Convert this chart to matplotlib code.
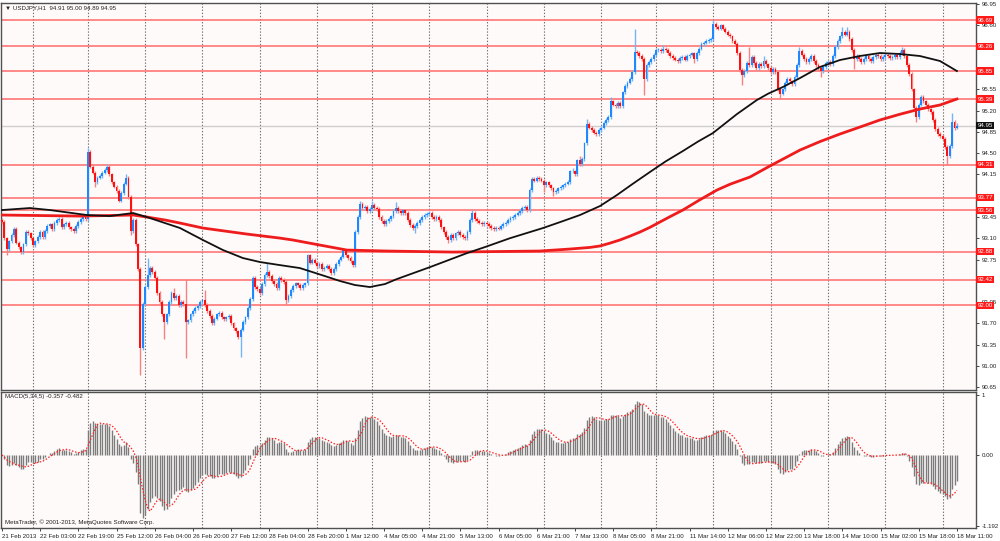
import matplotlib
matplotlib.use("Agg")
import matplotlib.pyplot as plt
import matplotlib.transforms as mtransforms
import numpy as np
import pandas as pd

# ---------------- data ----------------
symbol_title = "\u25bc USDJPY,H1  94.91 95.00 94.89 94.95"
macd_title = "MACD(5,34,5) -0.357 -0.482"
copyright_text = "MetaTrader, \u00a9 2001-2013, MetaQuotes Software Corp."

first_open = 93.40
closes = [
    93.37, 93.10, 92.92, 93.05, 93.15, 93.25, 93.03, 92.95, 92.88, 93.00, 93.20, 93.18, 93.10, 92.99, 93.05, 93.12,
    93.20, 93.12, 93.22, 93.30, 93.33, 93.25, 93.35, 93.40, 93.42, 93.28, 93.33, 93.35, 93.28, 93.25, 93.22, 93.30,
    93.37, 93.42, 93.45, 93.42, 94.52, 94.28, 94.18, 94.02, 94.10, 94.12, 94.18, 94.22, 94.28, 94.15, 94.02, 93.95,
    93.88, 93.72, 93.85, 94.00, 94.10, 93.78, 93.22, 93.40, 93.00, 92.60, 91.30, 92.02, 92.30, 92.50, 92.62, 92.55,
    92.45, 92.20, 92.05, 91.85, 91.72, 91.85, 92.05, 92.20, 92.12, 92.15, 92.00, 92.05, 92.02, 91.72, 91.75, 91.85,
    91.90, 91.95, 91.98, 92.05, 92.08, 92.00, 91.90, 91.82, 91.70, 91.78, 91.85, 91.88, 91.80, 91.77, 91.80, 91.83,
    91.70, 91.62, 91.57, 91.48, 91.60, 91.72, 91.80, 91.95, 92.10, 92.45, 92.30, 92.27, 92.20, 92.35, 92.50, 92.55,
    92.48, 92.40, 92.35, 92.28, 92.45, 92.42, 92.38, 92.08, 92.15, 92.25, 92.32, 92.36, 92.33, 92.28, 92.33, 92.36,
    92.82, 92.70, 92.75, 92.70, 92.64, 92.68, 92.60, 92.62, 92.64, 92.60, 92.53, 92.60, 92.68, 92.75, 92.80, 92.90,
    92.82, 92.78, 92.72, 92.66, 93.20, 93.45, 93.66, 93.60, 93.62, 93.55, 93.58, 93.65, 93.60, 93.58, 93.45, 93.38,
    93.33, 93.38, 93.42, 93.46, 93.55, 93.60, 93.55, 93.52, 93.56, 93.52, 93.40, 93.32, 93.27, 93.30, 93.35, 93.40,
    93.45, 93.48, 93.50, 93.52, 93.45, 93.42, 93.45, 93.40, 93.28, 93.20, 93.12, 93.07, 93.15, 93.10, 93.18, 93.20,
    93.16, 93.12, 93.10, 93.20, 93.40, 93.52, 93.42, 93.38, 93.36, 93.34, 93.36, 93.34, 93.30, 93.27, 93.25, 93.27,
    93.26, 93.30, 93.34, 93.36, 93.40, 93.43, 93.45, 93.49, 93.52, 93.55, 93.60, 93.62, 93.56, 93.90, 94.08, 94.05,
    94.10, 94.08, 94.05, 93.98, 94.02, 93.97, 93.92, 93.86, 93.88, 93.92, 93.94, 93.97, 94.00, 94.03, 94.20, 94.20,
    94.15, 94.38, 94.32, 94.40, 94.66, 94.98, 94.92, 94.88, 94.84, 94.82, 94.88, 94.92, 95.00, 95.05, 95.10, 95.35,
    95.30, 95.28, 95.32, 95.28, 95.50, 95.60, 95.66, 95.72, 95.84, 96.17, 96.15, 96.10, 96.05, 95.72, 95.95, 96.00,
    96.05, 96.12, 96.20, 96.20, 96.18, 96.22, 96.20, 96.15, 96.10, 96.06, 96.04, 96.02, 96.06, 96.08, 96.04, 96.10,
    96.12, 96.14, 96.05, 96.15, 96.22, 96.30, 96.32, 96.34, 96.36, 96.38, 96.63, 96.58, 96.55, 96.60, 96.55, 96.50,
    96.45, 96.42, 96.35, 96.30, 96.15, 95.87, 95.78, 95.85, 95.98, 95.95, 96.08, 95.98, 95.90, 95.97, 95.93, 96.02,
    95.96, 95.90, 95.83, 95.88, 95.83, 95.55, 95.48, 95.55, 95.65, 95.72, 95.68, 95.64, 95.75, 95.95, 96.18, 96.12,
    96.05, 96.00, 96.05, 96.10, 96.02, 95.95, 95.90, 95.85, 95.92, 95.98, 96.00, 95.97, 96.10, 96.25, 96.35, 96.42,
    96.50, 96.45, 96.50, 96.38, 96.20, 96.05, 96.10, 96.05, 96.00, 96.05, 96.10, 96.05, 96.02, 96.08, 96.12, 96.10,
    96.05, 96.08, 96.12, 96.10, 96.06, 96.08, 96.12, 96.08, 96.15, 96.20, 96.10, 95.95, 95.80, 95.55, 95.25, 95.10,
    95.30, 95.42, 95.35, 95.30, 95.22, 95.18, 95.05, 94.90, 94.82, 94.78, 94.74, 94.60, 94.45, 94.62, 95.02, 94.91,
    94.95,
]
high_marks = {36: 94.58, 44: 94.32, 52: 94.15, 61: 92.78, 72: 92.28, 77: 92.42, 85: 92.25, 111: 92.70,
              128: 92.85, 150: 93.72, 155: 93.72, 165: 93.70, 197: 93.56, 239: 94.25, 242: 94.45,
              245: 95.07, 255: 95.42, 265: 96.55, 277: 96.28, 298: 96.69, 313: 96.25, 319: 96.10,
              334: 96.25, 352: 96.58, 354: 96.58, 377: 96.25, 398: 95.16, 400: 95.00}
low_marks = {2: 92.82, 39: 93.95, 54: 93.15, 58: 90.85, 68: 91.45, 77: 91.13, 100: 91.15, 119: 92.02,
             173: 93.18, 187: 93.02, 227: 93.86, 231: 93.80, 269: 95.46, 290: 95.98, 310: 95.62,
             326: 95.40, 343: 95.75, 357: 95.88, 383: 95.02, 396: 94.30, 400: 94.89}

black_ma_bars = [0, 11.7, 20.1, 35.6, 45.2, 54.9, 60.7, 68.3, 74.6, 84.2, 92.6, 100.9, 108.1, 116.4, 124.8,
                 135.3, 141.6, 147.9, 154.1, 160.4, 165.4, 179.3, 194.8, 202.3, 212.8, 226.6, 234.0, 242.1,
                 250.5, 257.6, 264.0, 271.4, 278.0, 285.2, 291.5, 297.8, 307.9, 316.2, 321.0, 327.1, 334.3,
                 342.6, 351.0, 359.4, 367.7, 376.1, 384.5, 392.9, 400.0]
black_ma_vals = [93.565, 93.598, 93.565, 93.483, 93.466, 93.516, 93.450, 93.351, 93.269, 93.072, 92.907,
                 92.776, 92.710, 92.660, 92.611, 92.479, 92.398, 92.332, 92.299, 92.348, 92.430, 92.627,
                 92.857, 92.956, 93.102, 93.269, 93.370, 93.483, 93.631, 93.812, 93.990, 94.190, 94.365,
                 94.535, 94.690, 94.831, 95.144, 95.374, 95.480, 95.588, 95.736, 95.917, 96.032, 96.098,
                 96.147, 96.131, 96.098, 96.016, 95.851]
red_ma_bars = [0, 32.7, 54.9, 60.7, 68.3, 74.6, 84.2, 102.6, 116.4, 121.9, 133.2, 144.5, 161.3, 188.9,
               225.3, 237.9, 246.2, 250.5, 254.6, 258.8, 263.0, 267.2, 271.4, 275.6, 280.0, 285.2, 292.4,
               299.5, 305.0, 313.3, 321.7, 334.3, 342.6, 351.0, 359.4, 367.7, 376.1, 384.5, 392.9, 400.0]
red_ma_vals = [93.483, 93.466, 93.483, 93.450, 93.401, 93.351, 93.269, 93.170, 93.104, 93.072, 92.989,
               92.907, 92.891, 92.874, 92.891, 92.924, 92.950, 92.974, 93.020, 93.072, 93.135, 93.203,
               93.280, 93.368, 93.460, 93.565, 93.735, 93.894, 93.990, 94.108, 94.290, 94.552, 94.690,
               94.815, 94.930, 95.045, 95.140, 95.226, 95.292, 95.391]

levels = [96.69, 96.26, 95.85, 95.39, 94.31, 93.77, 93.56, 92.88, 92.42, 92.00]
bid = 94.95
price_ticks = [96.95, 96.60, 96.25, 95.90, 95.55, 95.20, 94.85, 94.50, 94.15, 93.80, 93.45,
               93.10, 92.75, 92.40, 92.05, 91.70, 91.35, 91.00, 90.65]
hidden_ticks = [96.25, 95.90, 93.80, 92.40]   # covered by the level boxes in the reference
time_labels = ["21 Feb 2013", "22 Feb 03:00", "22 Feb 19:00", "25 Feb 12:00", "26 Feb 04:00",
               "26 Feb 20:00", "27 Feb 12:00", "28 Feb 04:00", "28 Feb 20:00", "1 Mar 12:00",
               "4 Mar 05:00", "4 Mar 21:00", "5 Mar 13:00", "6 Mar 05:00", "6 Mar 21:00",
               "7 Mar 13:00", "8 Mar 05:00", "8 Mar 21:00", "11 Mar 14:00", "12 Mar 06:00",
               "12 Mar 22:00", "13 Mar 18:00", "14 Mar 10:00", "15 Mar 02:00", "15 Mar 18:00",
               "18 Mar 11:00"]
label_step = 16
grid_bars = [13, 36, 60, 84, 108, 132, 155, 179, 203, 227, 251, 274, 298, 322, 346, 370, 394]
macd_fast, macd_slow, macd_signal_len = 5, 34, 5
macd_ticks = [1.0, 0.0, -1.192]
macd_tick_labels = ["1", "0.00", "-1.192"]

# ---------------- derived ----------------
c = np.array(closes)
o = np.array([first_open] + closes[:-1])
n = len(c)
WICK = 0.03
h = np.maximum(o, c) + WICK
l = np.minimum(o, c) - WICK
for k, v in high_marks.items():
    h[k] = v
for k, v in low_marks.items():
    l[k] = v
x = np.arange(n)


def ema(v, p):
    a = 2.0 / (p + 1)
    out = np.empty_like(v)
    out[0] = v[0]
    for i in range(1, len(v)):
        out[i] = a * v[i] + (1 - a) * out[i - 1]
    return out


macd = ema(c, macd_fast) - ema(c, macd_slow)
signal = pd.Series(macd).rolling(macd_signal_len, min_periods=1).mean().values

# ---------------- figure ----------------
FONT = "Liberation Sans"
FS = 4.4
bg = "#fffafa"
fig = plt.figure(figsize=(10, 5.41), dpi=100, facecolor="white")
ax = fig.add_axes([0.001, 0.279, 0.975, 0.7155], facecolor=bg)
axm = fig.add_axes([0.001, 0.024, 0.975, 0.2514], facecolor=bg, sharex=ax)

xlim = (-0.4, 408)
ax.set_xlim(*xlim)
ax.set_ylim(90.605, 96.97)
axm.set_ylim(-1.225, 1.057)

for a in (ax, axm):
    for gb in grid_bars:
        a.axvline(gb, color="#6e6e6e", lw=0.8, ls=(0, (1.2, 1.6)), zorder=1)
    for s in a.spines.values():
        s.set_color("#505050")
        s.set_linewidth(1.0)

# levels and bid line
for lv in levels:
    ax.axhline(lv, color="#ff6a6a", lw=1.1, zorder=2)
ax.axhline(bid, color="#cfcfcf", lw=1.0, zorder=2)

# candles
up = c >= o
wick_up, wick_dn = "#72b6f7", "#f78080"
body_up, body_dn = "#1e88ff", "#ff1010"
ax.vlines(x[up], l[up], h[up], color=wick_up, lw=1.0, zorder=3)
ax.vlines(x[~up], l[~up], h[~up], color=wick_dn, lw=1.0, zorder=3)
bot = np.minimum(o, c)
hei = np.maximum(np.abs(c - o), 0.014)
ax.bar(x[up], hei[up], bottom=bot[up], width=0.78, color=body_up, linewidth=0, zorder=4)
ax.bar(x[~up], hei[~up], bottom=bot[~up], width=0.78, color=body_dn, linewidth=0, zorder=4)

# moving averages
ax.plot(red_ma_bars, red_ma_vals, color="#ee1c1c", lw=2.0, zorder=5, solid_joinstyle="round")
ax.plot(black_ma_bars, black_ma_vals, color="#111111", lw=1.3, zorder=6, solid_joinstyle="round")

# right price axis
ax.yaxis.tick_right()
ax.set_yticks(price_ticks)
ax.set_yticklabels(["" if t in hidden_ticks else f"{t:.2f}" for t in price_ticks],
                   fontsize=FS, family=FONT, color="#222222")
ax.tick_params(axis="y", length=2.5, width=0.7, pad=1.5, color="#444444")
ax.tick_params(axis="x", bottom=False, labelbottom=False)

trans = mtransforms.blended_transform_factory(fig.transFigure, ax.transData)
for lv in levels:
    ax.text(0.9775, lv, f"{lv:.2f}", transform=trans, fontsize=FS, family=FONT, color="white",
            va="center", ha="left", zorder=10, clip_on=False,
            bbox=dict(boxstyle="square,pad=0.18", fc="#ff1a1a", ec="none"))
ax.text(0.9775, bid, f"{bid:.2f}", transform=trans, fontsize=FS, family=FONT, color="white",
        va="center", ha="left", zorder=10, clip_on=False,
        bbox=dict(boxstyle="square,pad=0.18", fc="#111111", ec="none"))

ax.text(0.004, 0.993, symbol_title, transform=ax.transAxes, fontsize=FS, family=FONT,
        va="top", ha="left", color="#222222", zorder=10)

# MACD panel
axm.vlines(x, 0, macd, color="#7c7c7c", lw=1.0, zorder=3)
axm.plot(x, signal, color="#ff2020", lw=0.9, ls=(0, (1.2, 1.4)), zorder=4)
axm.yaxis.tick_right()
axm.set_yticks(macd_ticks)
axm.set_yticklabels(macd_tick_labels, fontsize=FS, family=FONT, color="#222222")
axm.tick_params(axis="y", length=2.5, width=0.7, pad=1.5, color="#444444")
axm.text(0.004, 0.985, macd_title, transform=axm.transAxes, fontsize=FS, family=FONT,
         va="top", ha="left", color="#222222", zorder=10)
axm.text(0.004, 0.02, copyright_text, transform=axm.transAxes, fontsize=FS, family=FONT,
         va="bottom", ha="left", color="#222222", zorder=10)

tick_pos = [i * label_step for i in range(len(time_labels))]
axm.set_xticks(tick_pos)
axm.set_xticklabels(time_labels, fontsize=FS, family=FONT, color="#222222", ha="left")
axm.tick_params(axis="x", length=2.5, width=0.7, pad=1.5, color="#444444")
axm.set_xlim(*xlim)

fig.savefig("out.png", dpi=100, facecolor="white")
